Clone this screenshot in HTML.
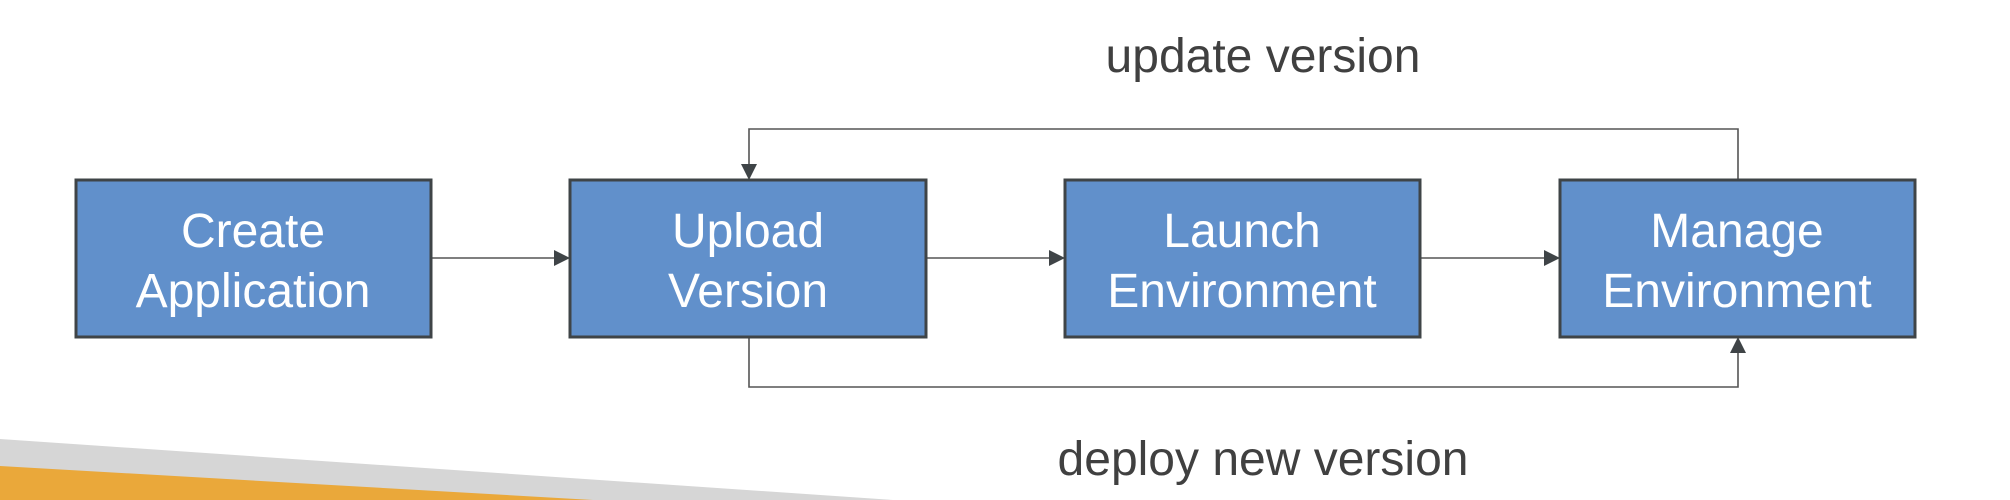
<!DOCTYPE html>
<html><head><meta charset="utf-8"><style>
html,body{margin:0;padding:0;background:#fff;}
svg{display:block;}
</style></head><body>
<svg width="2010" height="500" viewBox="0 0 2010 500" xmlns="http://www.w3.org/2000/svg">
<polygon points="0,439 893,500 0,500" fill="#d6d6d6"/>
<polygon points="0,466 593,500 0,500" fill="#eaa83a"/>
<g stroke="#555" stroke-width="1.6" fill="none">
<line x1="431" y1="258" x2="556" y2="258"/>
<line x1="926" y1="258" x2="1051" y2="258"/>
<line x1="1420" y1="258" x2="1546" y2="258"/>
<polyline points="1738,180 1738,129 749,129 749,166"/>
<polyline points="749,337 749,387 1738,387 1738,352"/>
</g>
<g fill="#3f4447">
<polygon points="570,258 554,250 554,266"/>
<polygon points="1065,258 1049,250 1049,266"/>
<polygon points="1560,258 1544,250 1544,266"/>
<polygon points="749,180 741,164 757,164"/>
<polygon points="1738,337 1730,353 1746,353"/>
</g>
<g fill="#6190cb" stroke="#3f4447" stroke-width="3">
<rect x="76" y="180" width="355" height="157"/>
<rect x="570" y="180" width="356" height="157"/>
<rect x="1065" y="180" width="355" height="157"/>
<rect x="1560" y="180" width="355" height="157"/>
</g>
<g fill="#fff" font-family="Liberation Sans, sans-serif" font-size="48" text-anchor="middle">
<text x="253" y="247">Create</text><text x="253" y="307">Application</text>
<text x="748" y="247">Upload</text><text x="748" y="307">Version</text>
<text x="1242" y="247">Launch</text><text x="1242" y="307">Environment</text>
<text x="1737" y="247">Manage</text><text x="1737" y="307">Environment</text>
</g>
<g fill="#404040" font-family="Liberation Sans, sans-serif" font-size="48" text-anchor="middle">
<text x="1263" y="72">update version</text>
<text x="1263" y="475">deploy new version</text>
</g>
</svg>
</body></html>
